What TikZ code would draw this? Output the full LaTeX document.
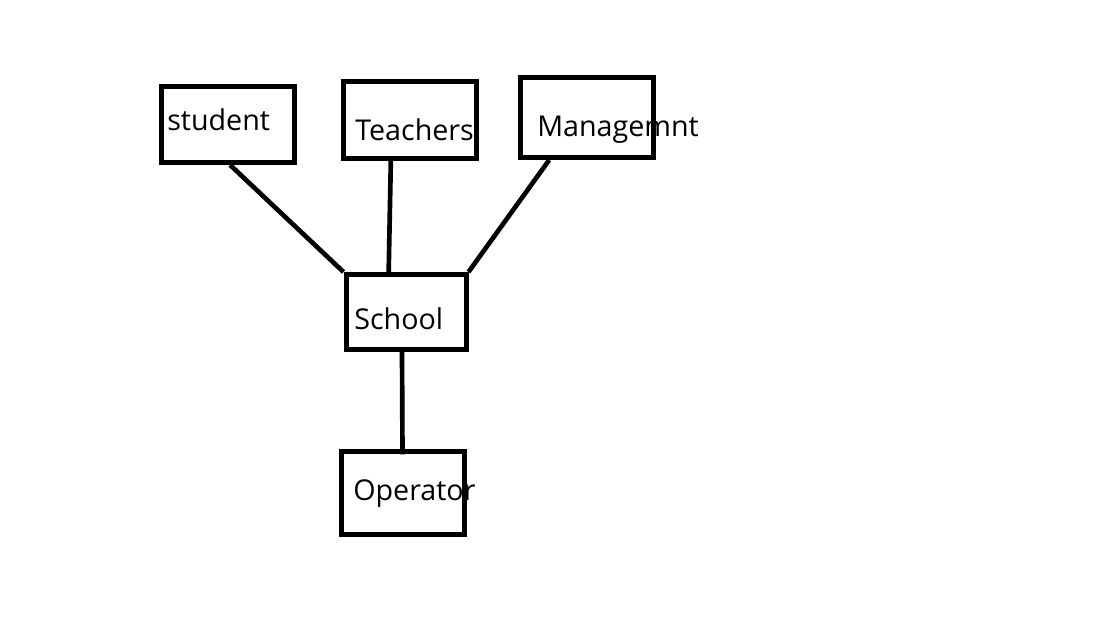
\documentclass[tikz,border=0pt]{standalone}
\usepackage{fontspec}
\setmainfont{Open Sans}

\tikzset{
	box/.style={draw, line width=3.75pt, inner sep=0pt},
	txt/.style={anchor=base west, inner sep=0pt, font=\fontsize{21.5}{24}\selectfont},
	link/.style={line width=3.5pt}
}

\begin{document}
\begin{tikzpicture}[x=0.75pt, y=-0.75pt]
	\useasboundingbox (0,0) rectangle (1111,623);
	% boxes
	\node[box, minimum width=99.75pt, minimum height=57pt] (student) at (227.5,124.5) {};
	\node[box, minimum width=99.75pt, minimum height=57.75pt] (teachers) at (409.5,120) {};
	\node[box, minimum width=99.75pt, minimum height=60pt] (mgmt) at (586.5,117.5) {};
	\node[box, minimum width=90pt, minimum height=56.25pt] (school) at (406,312) {};
	\node[box, minimum width=92.25pt, minimum height=62.25pt] (operator) at (402.5,493) {};
	% texts
	\node[txt] (studenttxt) at (167,131) {student};
	\node[txt] (teacherstxt) at (355,141) {Teachers};
	\node[txt] (mgmttxt) at (537,137) {Managemnt};
	\node[txt] (schooltxt) at (354,330) {School};
	\node[txt] (operatortxt) at (353,501) {Operator};
	% links
	\draw[link] ([xshift=2pt]student.south) -- (school.north west);
	\draw[link] ([xshift=-14pt]teachers.south) -- ([xshift=-13pt]school.north);
	\draw[link] ([xshift=-28pt]mgmt.south) -- (school.north east);
	\draw[link] ([xshift=-3pt]school.south) -- ([yshift=-4pt]operator.north);
\end{tikzpicture}
\end{document}
